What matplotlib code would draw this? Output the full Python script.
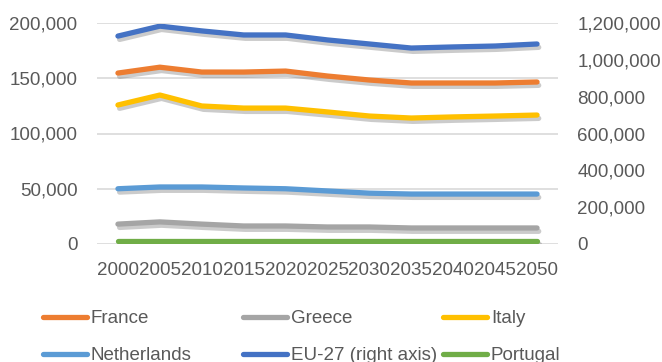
import matplotlib.pyplot as plt
import matplotlib.patheffects as pe
from matplotlib.lines import Line2D
from matplotlib.ticker import FuncFormatter

plt.rcParams['font.family'] = ['Liberation Sans', 'DejaVu Sans']

years = ['2000', '2005', '2010', '2015', '2020', '2025',
         '2030', '2035', '2040', '2045', '2050']

france = [154700, 160000, 155600, 155600, 156500, 152000,
          148400, 145700, 145700, 145700, 146600]
greece = [18000, 20000, 18000, 16300, 16300, 15400,
          15400, 14500, 14500, 14500, 14500]
italy = [125800, 134800, 124900, 123000, 123000, 119500,
         115800, 114000, 115000, 115800, 116700]
netherlands = [50000, 51600, 51600, 50700, 50000, 48000,
               46000, 45200, 45200, 45200, 45200]
portugal = [2700, 2700, 2700, 2700, 2700, 2700,
            2700, 2700, 2700, 2700, 2700]
eu27 = [1129000, 1183000, 1157000, 1135000, 1135000, 1108000,
        1086000, 1064000, 1070000, 1075000, 1086000]

colors = {'France': '#ED7D31', 'Greece': '#A5A5A5', 'Italy': '#FFC000',
          'Netherlands': '#5B9BD5', 'EU-27 (right axis)': '#4472C4',
          'Portugal': '#70AD47'}
text_col = '#595959'
lw = 3.8
shadow = [pe.SimpleLineShadow(offset=(1.2, -2.4), shadow_color='#7f7f7f', alpha=0.4),
          pe.Normal()]

fig = plt.figure(figsize=(6.62, 3.62), dpi=100)
ax = fig.add_axes([97 / 662, 1 - 244 / 362, 461 / 662, 221 / 362])
ax2 = ax.twinx()

x = range(len(years))
ax2.plot(x, eu27, color=colors['EU-27 (right axis)'], lw=lw,
         solid_capstyle='round', solid_joinstyle='round', path_effects=shadow)
for name, vals in [('France', france), ('Greece', greece), ('Italy', italy),
                   ('Netherlands', netherlands), ('Portugal', portugal)]:
    ax.plot(x, vals, color=colors[name], lw=lw, solid_capstyle='round',
            solid_joinstyle='round', path_effects=shadow)

ax.set_zorder(ax2.get_zorder() + 1)
ax.patch.set_visible(False)

ax.set_xlim(-0.5, 10.5)
ax.set_ylim(0, 200000)
ax2.set_ylim(0, 1200000)
ax.set_yticks(range(0, 200001, 50000))
ax2.set_yticks(range(0, 1200001, 200000))
fmt = FuncFormatter(lambda v, p: f'{int(v):,}')
ax.yaxis.set_major_formatter(fmt)
ax2.yaxis.set_major_formatter(fmt)
ax.set_xticks(list(x))
ax.set_xticklabels(years)

for a in (ax, ax2):
    for s in a.spines.values():
        s.set_visible(False)
    a.tick_params(length=0, labelsize=13.5, labelcolor=text_col)
ax.tick_params(axis='y', pad=14)
ax.tick_params(axis='x', pad=13)
ax2.tick_params(axis='y', pad=14)
ax.grid(axis='y', color='#D9D9D9', lw=1.2)
ax.set_axisbelow(True)

# legend laid out as three evenly spaced columns
cols = [['France', 'Netherlands'], ['Greece', 'EU-27 (right axis)'], ['Italy', 'Portugal']]
for i, names in enumerate(cols):
    handles = [Line2D([], [], color=colors[n], lw=lw, solid_capstyle='round') for n in names]
    leg = fig.legend(handles, names, loc='upper left',
                     bbox_to_anchor=((43 + 200 * i) / 662, 1 - 310 / 362),
                     frameon=False, fontsize=13.5, handlelength=2.35,
                     handletextpad=0.2, labelspacing=1.06, borderpad=0,
                     borderaxespad=0)
    for t in leg.get_texts():
        t.set_color(text_col)

fig.savefig('out.png', dpi=100)
